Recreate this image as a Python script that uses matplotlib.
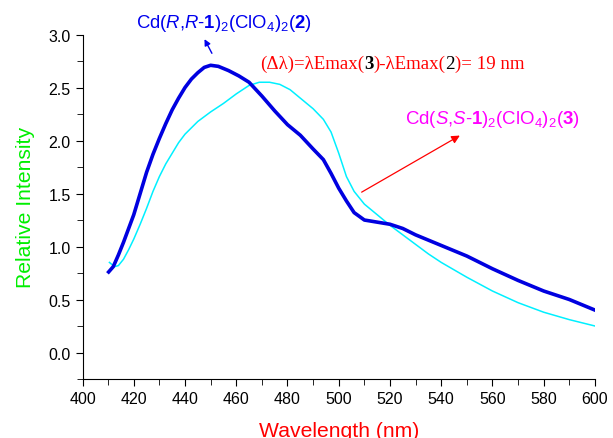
import matplotlib
matplotlib.use("Agg")
import matplotlib.pyplot as plt

plt.rcParams['font.family'] = 'Liberation Sans'
plt.rcParams['mathtext.fontset'] = 'custom'
plt.rcParams['mathtext.rm'] = 'Liberation Sans'
plt.rcParams['mathtext.it'] = 'Liberation Sans:italic'
plt.rcParams['mathtext.bf'] = 'Liberation Sans:bold'

# complex 2 (R,R), thick blue
wl2 = [410.2, 412, 414, 416, 418, 420, 422.5, 425, 427.5, 430, 432.5, 435, 437.5, 440, 442.5,
       445, 447.5, 450, 453, 457, 461, 465, 470, 475, 480, 485, 490, 494, 497, 500, 503, 506,
       510, 515, 520, 525, 530, 540, 550, 560, 570, 580, 590, 600]
int2 = [0.76, 0.81, 0.92, 1.04, 1.17, 1.30, 1.50, 1.70, 1.87, 2.02, 2.16, 2.29, 2.40, 2.50, 2.58,
        2.64, 2.69, 2.71, 2.70, 2.66, 2.61, 2.55, 2.42, 2.28, 2.15, 2.05, 1.92, 1.82, 1.69, 1.55, 1.43, 1.32,
        1.25, 1.23, 1.21, 1.17, 1.11, 1.01, 0.91, 0.79, 0.68, 0.58, 0.50, 0.40]

# complex 3 (S,S), thin cyan
wl3 = [410.5, 412.5, 414, 416, 418, 420, 422.5, 425, 427.5, 430, 432.5, 435, 437.5, 440, 445,
       450, 455, 460, 465, 469, 473, 477, 481, 485, 490, 494, 497, 500, 503, 506, 510, 515,
       520, 525, 530, 535, 540, 550, 560, 570, 580, 590, 600]
int3 = [0.85, 0.81, 0.82, 0.88, 0.97, 1.07, 1.21, 1.36, 1.52, 1.66, 1.78, 1.88, 1.98, 2.06, 2.18,
        2.27, 2.35, 2.44, 2.52, 2.55, 2.55, 2.53, 2.48, 2.40, 2.30, 2.20, 2.08, 1.88, 1.66, 1.52, 1.40, 1.30,
        1.20, 1.11, 1.02, 0.93, 0.85, 0.71, 0.58, 0.47, 0.38, 0.31, 0.25]

fig = plt.figure(figsize=(6.13, 4.39), dpi=100)
ax = fig.add_axes([0.1346, 0.1344, 0.8360, 0.7846])

ax.plot(wl3, int3, color='#00f0ff', lw=1.1)
ax.plot(wl2, int2, color='#0000e0', lw=2.6)

ax.set_xlim(400, 600)
ax.set_ylim(-0.25, 3.0)
ax.set_xticks(range(400, 601, 20))
ax.set_xticks(range(400, 601, 10), minor=True)
ax.set_yticks([0, 0.5, 1.0, 1.5, 2.0, 2.5, 3.0])
ax.set_yticks([-0.25 + 0.25 * i for i in range(14)], minor=True)
ax.set_yticklabels(['0.0', '0.5', '1.0', '1.5', '2.0', '2.5', '3.0'])
ax.spines['top'].set_visible(False)
ax.spines['right'].set_visible(False)
ax.tick_params(which='major', direction='out', length=5, labelsize=11.5, colors='black')
ax.tick_params(which='minor', direction='out', length=4)

ax.set_xlabel('Wavelength (nm)', color='red', fontsize=15.2, labelpad=11)
ax.set_ylabel('Relative Intensity', color='#00ee00', fontsize=15.2, labelpad=10)

# labels and arrows
ax.text(455.1, 3.11, r'Cd($R$,$R$-$\mathbf{1}$)$_2$(ClO$_4$)$_2$($\mathbf{2}$)',
        color='#0000ee', fontsize=13.3, ha='center', va='center')
ax.annotate('', xy=(447.1, 2.98), xytext=(451, 2.80),
            arrowprops=dict(arrowstyle='-|>', color='#0000ee', lw=1, mutation_scale=9))

ax.text(526, 2.21, r'Cd($S$,$S$-$\mathbf{1}$)$_2$(ClO$_4$)$_2$($\mathbf{3}$)',
        color='#ff00ff', fontsize=13.4, ha='left', va='center')
ax.annotate('', xy=(548.2, 2.06), xytext=(508, 1.50),
            arrowprops=dict(arrowstyle='-|>', color='red', lw=0.9, mutation_scale=12))

serif = 'Liberation Serif'
fs = 13.6
t1 = ax.text(469.3, 2.73, '(Δλ)=λEmax(', color='red', family=serif, fontsize=fs, va='center')
t2 = ax.annotate('3', xy=(1, 0), xycoords=t1, va='bottom', color='black',
                 family=serif, fontsize=fs, fontweight='bold')
t3 = ax.annotate(')-λEmax(', xy=(1, 0), xycoords=t2, va='bottom', color='red',
                 family=serif, fontsize=fs)
t4 = ax.annotate('2', xy=(1, 0), xycoords=t3, va='bottom', color='black',
                 family=serif, fontsize=fs)
t5 = ax.annotate(')= 19 nm', xy=(1, 0), xycoords=t4, va='bottom', color='red',
                 family=serif, fontsize=fs)

fig.savefig('out.png', dpi=100)
